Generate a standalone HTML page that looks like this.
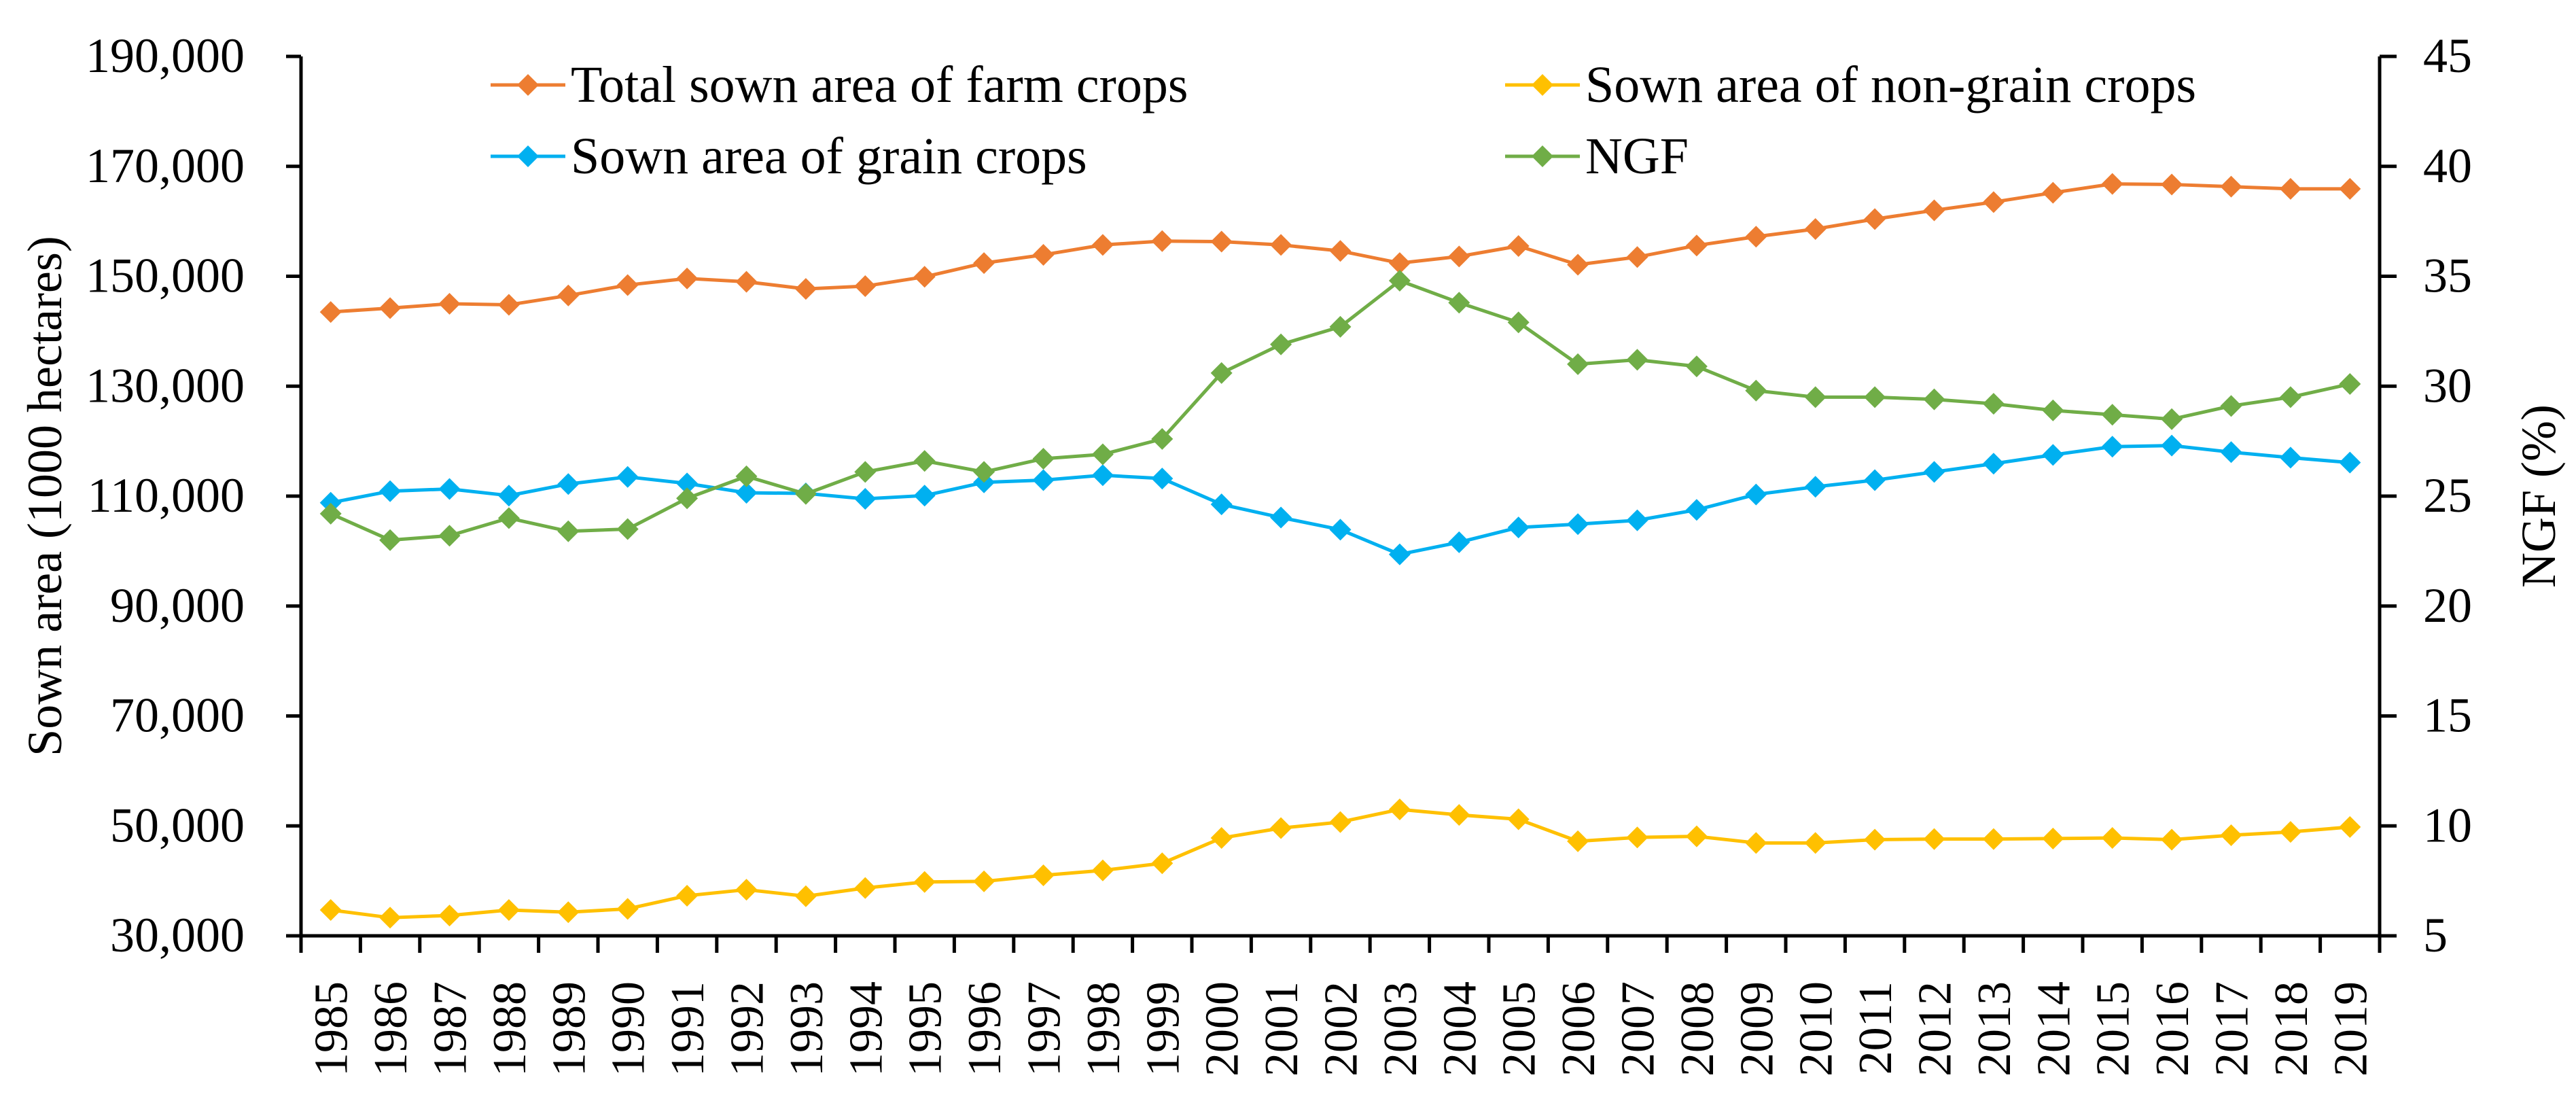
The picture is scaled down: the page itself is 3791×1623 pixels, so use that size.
<!DOCTYPE html>
<html><head><meta charset="utf-8"><style>
html,body{margin:0;padding:0;background:#fff;}
svg{display:block;font-family:"Liberation Serif",serif;}
</style></head><body>
<svg id="chart" width="3791" height="1623" viewBox="0 0 3791 1623" xmlns="http://www.w3.org/2000/svg">
<rect width="3791" height="1623" fill="#fff"/>
<g id="axes"></g><g id="series"></g><g id="legend"></g>
</svg>
<script>
const years = [1985,1986,1987,1988,1989,1990,1991,1992,1993,1994,1995,1996,1997,1998,1999,2000,2001,2002,2003,2004,2005,2006,2007,2008,2009,2010,2011,2012,2013,2014,2015,2016,2017,2018,2019];
const totalArea = [143500,144200,145000,144800,146500,148400,149600,149000,147700,148200,149900,152400,153900,155700,156400,156300,155700,154600,152400,153600,155500,152100,153500,155600,157200,158600,160400,162000,163500,165200,166800,166700,166300,165900,165900];
const grainArea = [108800,110900,111300,110100,112200,113500,112300,110600,110500,109500,110100,112500,112900,113800,113200,108500,106100,103900,99400,101600,104300,104900,105600,107500,110300,111700,112900,114400,115900,117500,119000,119200,118000,117000,116100];
const nonGrainArea = [34700,33300,33700,34700,34300,34900,37300,38400,37200,38700,39800,39900,41000,41900,43200,47800,49600,50700,53000,52000,51200,47200,47900,48100,46900,46900,47500,47600,47600,47700,47800,47500,48300,48900,49800];
const ngf = [24.2,23.0,23.2,24.0,23.4,23.5,24.9,25.9,25.1,26.1,26.6,26.1,26.7,26.9,27.6,30.6,31.9,32.7,34.8,33.8,32.9,31.0,31.2,30.9,29.8,29.5,29.5,29.4,29.2,28.9,28.7,28.5,29.1,29.5,30.1];
const leftTicks = [30000,50000,70000,90000,110000,130000,150000,170000,190000];
const rightTicks = [5,10,15,20,25,30,35,40,45];

const NS='http://www.w3.org/2000/svg';
const X0=443, X1=3502, Y0=1377, Y1=83;
const band=(X1-X0)/years.length;
const xPos=i=>X0+(i+0.5)*band;
const yL=v=>Y0-(v-30000)/(190000-30000)*(Y0-Y1);
const yR=v=>Y0-(v-5)/(45-5)*(Y0-Y1);
function mk(tag,attrs,parent,text){const e=document.createElementNS(NS,tag);for(const k in attrs)e.setAttribute(k,attrs[k]);if(text!==undefined)e.textContent=text;parent.appendChild(e);return e;}
const axes=document.getElementById('axes');
let e;
e=mk('line',{x1:X0,y1:Y1,x2:X0,y2:Y0+2,stroke:'#000','stroke-width':5},axes);


e=mk('line',{x1:X1,y1:Y1,x2:X1,y2:Y0+2,stroke:'#000','stroke-width':5},axes);


e=mk('line',{x1:X0-22,y1:Y0,x2:X1+2,y2:Y0,stroke:'#000','stroke-width':5},axes);


leftTicks.forEach(v=>{
  const y=yL(v);
  mk('line',{x1:X0-22,y1:y,x2:X0,y2:y,stroke:'#000','stroke-width':5},axes);
  e=mk('text',{x:360,y:y+23,'text-anchor':'end','font-size':72,fill:'#000'},axes,v.toLocaleString('en-US'));
  
  
});
rightTicks.forEach(v=>{
  const y=yR(v);
  mk('line',{x1:X1,y1:y,x2:X1+25,y2:y,stroke:'#000','stroke-width':5},axes);
  e=mk('text',{x:3566,y:y+23,'text-anchor':'start','font-size':72,fill:'#000'},axes,String(v));
  
  
});
for(let i=0;i<=years.length;i++){
  const x=X0+i*band;
  mk('line',{x1:x,y1:Y0,x2:x,y2:Y0+25,stroke:'#000','stroke-width':5},axes);
}
years.forEach((yr,i)=>{
  const x=xPos(i)+24;
  e=mk('text',{x:x,y:1444,transform:`rotate(-90 ${x} 1444)`,'text-anchor':'end','font-size':70,fill:'#000'},axes,String(yr));
  
  
});
e=mk('text',{x:90,y:730,transform:'rotate(-90 90 730)','text-anchor':'middle','font-size':72,fill:'#000'},axes,'Sown area (1000 hectares)');


e=mk('text',{x:3760,y:730,transform:'rotate(-90 3760 730)','text-anchor':'middle','font-size':72,fill:'#000'},axes,'NGF (%)');



const series=document.getElementById('series');
function diamond(cx,cy,r){return `M${cx} ${cy-r}L${cx+r} ${cy}L${cx} ${cy+r}L${cx-r} ${cy}Z`;}
function drawSeries(vals,yf,color,name){
  const g=mk('g',{},series);
  
  
  mk('polyline',{points:vals.map((v,i)=>xPos(i)+','+yf(v)).join(' '),fill:'none',stroke:color,'stroke-width':5,'stroke-linejoin':'round'},g);
  vals.forEach((v,i)=>{
    const p=mk('path',{d:diamond(xPos(i),yf(v),16),fill:color},g);
    
    
  });
}
drawSeries(totalArea,yL,'#ED7D31','total-sown-area-series');
drawSeries(nonGrainArea,yL,'#FFC000','non-grain-area-series');
drawSeries(grainArea,yL,'#00B0F0','grain-area-series');
drawSeries(ngf,yR,'#70AD47','ngf-series');

const legend=document.getElementById('legend');
const legendItems=[['Total sown area of farm crops','#ED7D31',722,125],['Sown area of non-grain crops','#FFC000',2215,125],['Sown area of grain crops','#00B0F0',722,230],['NGF','#70AD47',2215,230]];
legendItems.forEach(([label,color,x,y])=>{
  const g=mk('g',{},legend);
  
  
  mk('line',{x1:x,y1:y,x2:x+110,y2:y,stroke:color,'stroke-width':5},g);
  mk('path',{d:diamond(x+55,y,16),fill:color},g);
  mk('text',{x:x+118,y:y+25,'font-size':76,fill:'#000'},g,label);
});
</script>
</body></html>
